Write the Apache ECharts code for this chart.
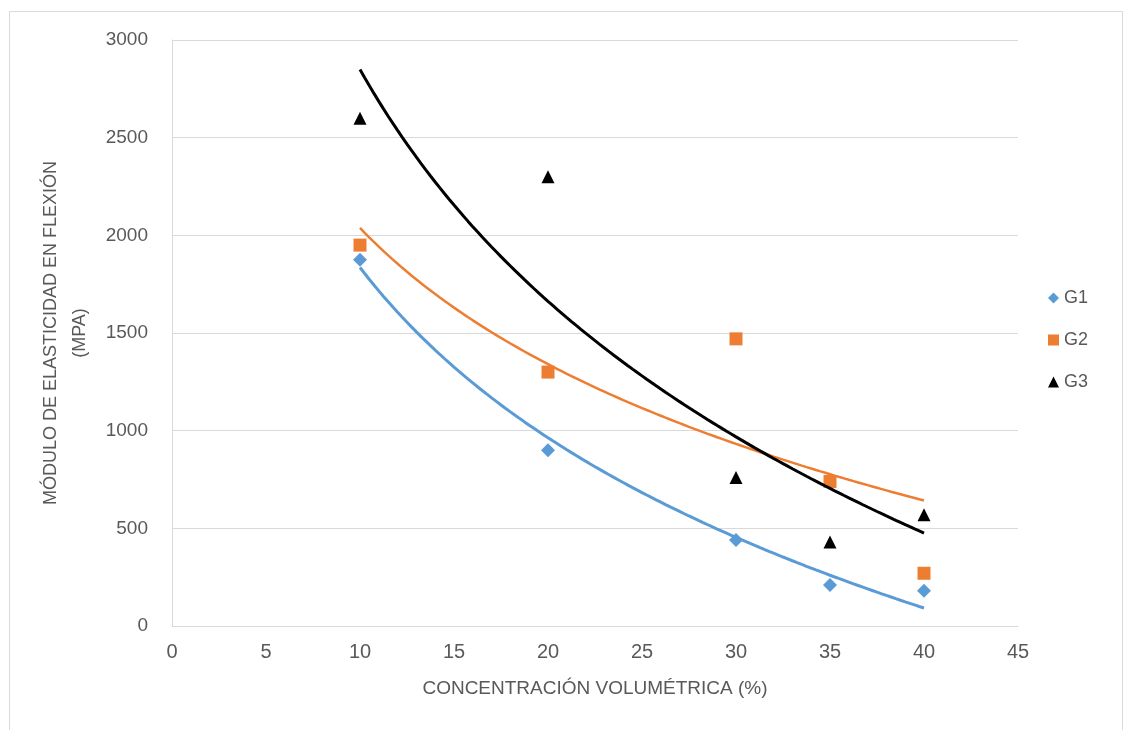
<!DOCTYPE html>
<html>
<head>
<meta charset="utf-8">
<title>Módulo de elasticidad en flexión</title>
<script src="https://cdn.jsdelivr.net/npm/echarts@6/dist/echarts.min.js"></script>
<style>
  html, body { margin: 0; padding: 0; background: #fff; }
  #chart { width: 1125px; height: 730px; }
</style>
</head>
<body>
<div id="chart"></div>
<script>
// concentración volumétrica (%)
const concentracion = [10, 20, 30, 35, 40]
// módulo de elasticidad (MPa) por grupo
const g1 = [1875, 900, 440, 210, 180]
const g2 = [1950, 1300, 1470, 740, 270]
const g3 = [2600, 2300, 760, 430, 570]
const xTicks = [0, 5, 10, 15, 20, 25, 30, 35, 40, 45]
const yTicks = [0, 500, 1000, 1500, 2000, 2500, 3000]

// logarithmic trendline (least squares, y = a + b ln x), like the spreadsheet's
function logFit (xs, ys) {
  const lx = xs.map(v => Math.log(v))
  const n = xs.length
  const mx = lx.reduce((s, v) => s + v, 0) / n
  const my = ys.reduce((s, v) => s + v, 0) / n
  let sxy = 0, sxx = 0
  for (let i = 0; i < n; i++) {
    sxy += (lx[i] - mx) * (ys[i] - my)
    sxx += (lx[i] - mx) * (lx[i] - mx)
  }
  const b = sxy / sxx
  const a = my - b * mx
  const pts = []
  const x0 = Math.min(...xs), x1 = Math.max(...xs)
  for (let x = x0; x <= x1 + 1e-9; x += 0.25) pts.push([x, a + b * Math.log(x)])
  return pts
}

const pairs = ys => concentracion.map((x, i) => [x, ys[i]])

const textColor = '#595959'
const lineColor = '#d9d9d9'
const font = 'Liberation Sans'

const chart = echarts.init(document.getElementById('chart'))
chart.setOption({
  animation: false,
  backgroundColor: '#fff',
  graphic: [{
    type: 'rect',
    shape: { x: 9.5, y: 11.5, width: 1113, height: 740 },
    style: { fill: 'none', stroke: lineColor, lineWidth: 1 },
    silent: true
  }],
  grid: { left: 172, right: 107, top: 40, bottom: 104 },
  legend: {
    orient: 'vertical',
    left: 1043,
    top: 284,
    itemWidth: 11,
    itemHeight: 11,
    itemGap: 24,
    textStyle: { color: textColor, fontFamily: font, fontSize: 18, lineHeight: 18 },
    data: [
      { name: 'G1', icon: 'diamond' },
      { name: 'G2', icon: 'rect' },
      { name: 'G3', icon: 'triangle' }
    ]
  },
  xAxis: {
    type: 'value',
    min: xTicks[0],
    max: xTicks[xTicks.length - 1],
    interval: 5,
    name: 'CONCENTRACIÓN VOLUMÉTRICA (%)',
    nameLocation: 'middle',
    nameGap: 53,
    nameTextStyle: { color: textColor, fontFamily: font, fontSize: 19 },
    axisLine: { show: true, lineStyle: { color: lineColor } },
    axisTick: { show: false },
    splitLine: { show: false },
    axisLabel: { color: textColor, fontFamily: font, fontSize: 20, margin: 16 }
  },
  yAxis: {
    type: 'value',
    min: yTicks[0],
    max: yTicks[yTicks.length - 1],
    interval: 500,
    name: 'MÓDULO DE ELASTICIDAD EN FLEXIÓN\n(MPA)',
    nameLocation: 'middle',
    nameRotate: 90,
    nameGap: 69,
    nameTextStyle: { color: textColor, fontFamily: font, fontSize: 18, lineHeight: 29 },
    axisLine: { show: true, lineStyle: { color: lineColor } },
    axisTick: { show: false },
    splitLine: { lineStyle: { color: lineColor } },
    axisLabel: { color: textColor, fontFamily: font, fontSize: 19, margin: 24, formatter: v => String(v) }
  },
  series: [
    { name: 'G1', type: 'scatter', symbol: 'diamond', symbolSize: 14, itemStyle: { color: '#5B9BD5', opacity: 1 }, data: pairs(g1), z: 3 },
    { name: 'G2', type: 'scatter', symbol: 'rect', symbolSize: 13, itemStyle: { color: '#ED7D31', opacity: 1 }, data: pairs(g2), z: 3 },
    { name: 'G3', type: 'scatter', symbol: 'triangle', symbolSize: 13, itemStyle: { color: '#000', opacity: 1 }, data: pairs(g3), z: 3 },
    { name: 'tend G1', type: 'line', showSymbol: false, lineStyle: { color: '#5B9BD5', width: 3 }, data: logFit(concentracion, g1), z: 4 },
    { name: 'tend G2', type: 'line', showSymbol: false, lineStyle: { color: '#ED7D31', width: 2.5 }, data: logFit(concentracion, g2), z: 4 },
    { name: 'tend G3', type: 'line', showSymbol: false, lineStyle: { color: '#000', width: 3 }, data: logFit(concentracion, g3), z: 4 }
  ]
})
</script>
</body>
</html>
